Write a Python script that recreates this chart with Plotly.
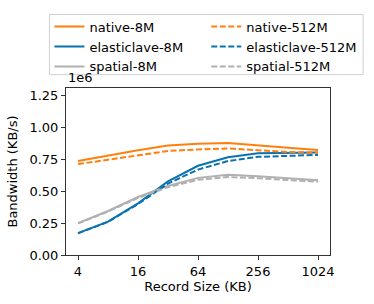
import plotly.graph_objects as go

record_sizes = [4, 8, 16, 32, 64, 128, 256, 512, 1024]
native_8m = [737000, 780000, 822000, 858000, 872000, 878000, 862000, 842000, 823000]
native_512m = [713000, 748000, 785000, 816000, 828000, 836000, 822000, 808000, 803000]
elastic_8m = [172000, 262000, 405000, 578000, 700000, 767000, 798000, 802000, 805000]
elastic_512m = [170000, 260000, 400000, 560000, 670000, 737000, 770000, 780000, 785000]
spatial_8m = [250000, 345000, 455000, 542000, 605000, 630000, 618000, 603000, 587000]
spatial_512m = [248000, 340000, 448000, 532000, 590000, 612000, 602000, 590000, 575000]

x_ticks = [4, 16, 64, 256, 1024]
x_tick_labels = ["4", "16", "64", "256", "1024"]
y_ticks = [0, 250000, 500000, 750000, 1000000, 1250000]
y_tick_labels = ["0.00", "0.25", "0.50", "0.75", "1.00", "1.25"]

ORANGE = "#ff7f0e"
BLUE = "#0b72b0"
GREY = "#b0b0b0"
DASH = "6px,2.5px"

series = [
    ("native-8M", native_8m, ORANGE, "solid", "legend"),
    ("elasticlave-8M", elastic_8m, BLUE, "solid", "legend"),
    ("spatial-8M", spatial_8m, GREY, "solid", "legend"),
    ("native-512M", native_512m, ORANGE, DASH, "legend2"),
    ("elasticlave-512M", elastic_512m, BLUE, DASH, "legend2"),
    ("spatial-512M", spatial_512m, GREY, DASH, "legend2"),
]

fig = go.Figure()
for name, vals, color, dash, leg in series:
    fig.add_trace(go.Scatter(
        x=record_sizes, y=vals, name=name, mode="lines",
        line=dict(color=color, width=2, dash=dash), legend=leg,
    ))

FONT = "DejaVu Sans"
FS = 13

def px_x(p):
    return (p - 61) / 271.0

def px_y(p):
    return (259 - p) / 175.0

leg_common = dict(
    yanchor="top", xanchor="left", y=px_y(4),
    bgcolor="rgba(0,0,0,0)", borderwidth=0,
    font=dict(family=FONT, size=FS), traceorder="normal",
    orientation="v",
)

fig.update_layout(
    width=374, height=304,
    margin=dict(l=61, r=42, t=84, b=45),
    paper_bgcolor="white", plot_bgcolor="white",
    font=dict(family=FONT, size=FS, color="black"),
    showlegend=True,
    legend=dict(x=px_x(44), **leg_common),
    legend2=dict(x=px_x(205), **leg_common),
    xaxis=dict(
        type="log", range=[0.4817, 3.1307],
        tickvals=x_ticks, ticktext=x_tick_labels,
        showgrid=False, zeroline=False,
        showline=True, linecolor="#333333", linewidth=1, mirror=True,
        ticks="outside", ticklen=4, tickcolor="#333333",
        tickfont=dict(family=FONT, size=FS),
        title=dict(text="Record Size (KB)", standoff=4, font=dict(family=FONT, size=FS)),
    ),
    yaxis=dict(
        range=[0, 1310000],
        tickvals=y_ticks, ticktext=y_tick_labels,
        showgrid=False, zeroline=False,
        showline=True, linecolor="#333333", linewidth=1, mirror=True,
        ticks="outside", ticklen=4, tickcolor="#333333",
        tickfont=dict(family=FONT, size=FS),
        title=dict(text="Bandwidth (KB/s)", standoff=8, font=dict(family=FONT, size=FS)),
    ),
    shapes=[dict(
        type="rect", xref="paper", yref="paper",
        x0=px_x(44), x1=px_x(366), y0=px_y(70), y1=px_y(7),
        line=dict(color="#d0d0d0", width=1), fillcolor="rgba(0,0,0,0)",
        layer="below",
    )],
    annotations=[dict(
        text="1e6", xref="paper", yref="paper", x=0, y=1,
        xanchor="left", yanchor="bottom", showarrow=False, yshift=1,
        font=dict(family=FONT, size=FS),
    )],
)

fig.write_html("out.html", config={"displayModeBar": False},
               post_script="document.body.style.margin='0';")
